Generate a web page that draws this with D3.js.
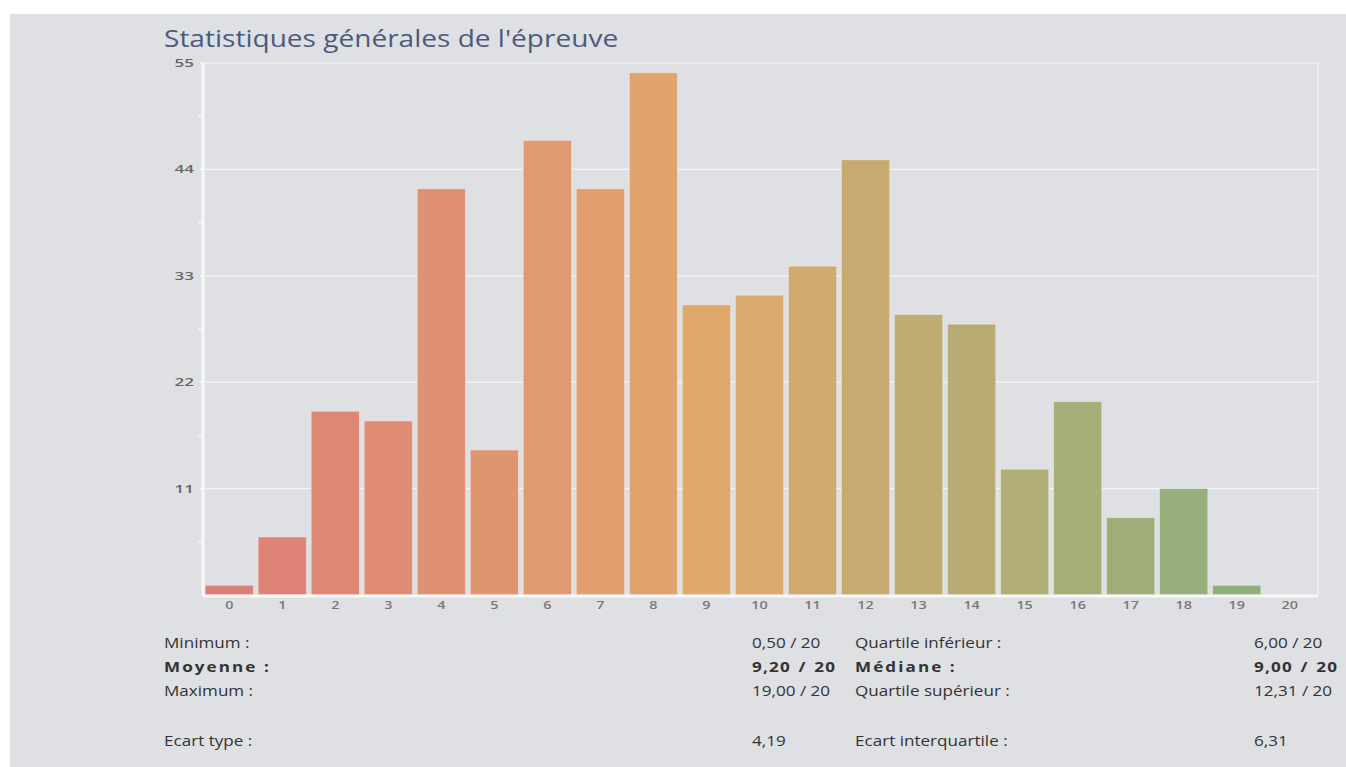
<!DOCTYPE html>
<html>
<head>
<meta charset="utf-8">
<script src="https://cdn.jsdelivr.net/npm/d3@7"></script>
<style>
  body { margin: 0; background: #fff; font-family: "Open Sans", sans-serif; }
  #chart svg { display: block; }
</style>
</head>
<body>
<div id="chart"></div>
<script>
const notes = [0, 1, 2, 3, 4, 5, 6, 7, 8, 9, 10, 11, 12, 13, 14, 15, 16, 17, 18, 19, 20];
const counts = [1, 6, 19, 18, 42, 15, 47, 42, 54, 30, 31, 34, 45, 29, 28, 13, 20, 8, 11, 1, 0];
const yTicks = [11, 22, 33, 44, 55];

const statsLeft = [
    ["Minimum :", "0,50 / 20", false],
    ["Moyenne :", "9,20 / 20", true],
    ["Maximum :", "19,00 / 20", false],
    ["Ecart type :", "4,19", false]
];
const statsRight = [
    ["Quartile inférieur :", "6,00 / 20", false],
    ["Médiane :", "9,00 / 20", true],
    ["Quartile supérieur :", "12,31 / 20", false],
    ["Ecart interquartile :", "6,31", false]
];

const width = 1346;
const height = 767;
const plot = { left: 203, right: 1318, top: 63, bottom: 595 };
const stretch = 1.22; // the reference text is drawn a bit wide

const svg = d3.select("#chart")
    .append("svg")
    .attr("width", width)
    .attr("height", height);

// grey panel
svg.append("rect")
    .attr("x", 10)
    .attr("y", 14)
    .attr("width", width - 10)
    .attr("height", height - 14)
    .attr("fill", "#dfe0e4");

svg.append("text")
    .attr("transform", `translate(164,47) scale(${stretch},1)`)
    .attr("fill", "#4d5a7d")
    .style("font-size", "23px")
    .text("Statistiques générales de l'épreuve");

const x = d3.scaleBand()
    .domain(notes)
    .range([plot.left, plot.right - 2])
    .paddingInner(0.09)
    .paddingOuter(0.04);

const y = d3.scaleLinear()
    .domain([0, 55])
    .range([plot.bottom, plot.top]);

const color = d3.scaleLinear()
    .domain([0, 9, 19])
    .range(["#df7e78", "#e1a86c", "#8fb07b"]);

// grid
svg.append("g")
    .selectAll("line")
    .data(yTicks)
    .enter()
    .append("line")
    .attr("x1", plot.left)
    .attr("x2", plot.right)
    .attr("y1", d => y(d))
    .attr("y2", d => y(d))
    .attr("stroke", "#f4f5f7")
    .attr("stroke-width", 1.2);

// right border
svg.append("line")
    .attr("x1", plot.right)
    .attr("x2", plot.right)
    .attr("y1", plot.top)
    .attr("y2", plot.bottom)
    .attr("stroke", "#f4f5f7")
    .attr("stroke-width", 1.2);

// bars
svg.append("g")
    .selectAll("rect")
    .data(notes)
    .enter()
    .append("rect")
    .attr("x", d => x(d))
    .attr("y", (d, i) => y(counts[i]))
    .attr("width", x.bandwidth())
    .attr("height", (d, i) => y(0) - y(counts[i]))
    .attr("fill", d => color(d))
    .attr("stroke", "#f3f0ec")
    .attr("stroke-opacity", 0.5)
    .attr("stroke-width", 1);

// y axis
const yAxis = svg.append("g")
    .attr("transform", `translate(${plot.left},0)`)
    .call(d3.axisLeft(y).tickValues(yTicks).tickSize(0).tickPadding(0));
yAxis.select(".domain").remove();
yAxis.selectAll("text")
    .attr("x", null)
    .attr("transform", `translate(-9,0) scale(1.55,1)`)
    .attr("fill", "#666")
    .style("font-size", "11px")
    .style("font-weight", "600")
    .style("font-family", "Open Sans");

const minor = yTicks.map(t => t - 5.5);
svg.append("g")
    .selectAll("line")
    .data(minor)
    .enter()
    .append("line")
    .attr("x1", plot.left - 5)
    .attr("x2", plot.left)
    .attr("y1", d => y(d))
    .attr("y2", d => y(d))
    .attr("stroke", "#f4f5f7")
    .attr("stroke-width", 1.5);
svg.append("g")
    .selectAll("line")
    .data(yTicks)
    .enter()
    .append("line")
    .attr("x1", plot.left - 3)
    .attr("x2", plot.left)
    .attr("y1", d => y(d))
    .attr("y2", d => y(d))
    .attr("stroke", "#f4f5f7")
    .attr("stroke-width", 1.5);

svg.append("line")
    .attr("x1", plot.left)
    .attr("x2", plot.left)
    .attr("y1", plot.top)
    .attr("y2", plot.bottom + 1)
    .attr("stroke", "#f6f7f8")
    .attr("stroke-width", 3);

// x axis
svg.append("line")
    .attr("x1", plot.left)
    .attr("x2", plot.right)
    .attr("y1", plot.bottom + 1)
    .attr("y2", plot.bottom + 1)
    .attr("stroke", "#f6f7f8")
    .attr("stroke-width", 3);

const xAxis = svg.append("g")
    .attr("transform", `translate(0,${plot.bottom})`)
    .call(d3.axisBottom(x).tickSize(0).tickPadding(0));
xAxis.select(".domain").remove();
xAxis.selectAll("text")
    .attr("y", null)
    .attr("dy", null)
    .attr("transform", `translate(0,14) scale(1.25,1)`)
    .attr("fill", "#777")
    .style("font-size", "11.5px")
    .style("font-weight", "600")
    .style("font-family", "Open Sans");

// stats table
const rowY = [648, 672, 696, 746];

function drawStats(rows, labelX, valueX) {
    const g = svg.append("g")
        .style("font-family", "Open Sans")
        .style("font-size", "14px")
        .attr("fill", "#333");
    g.selectAll(".lab")
        .data(rows)
        .enter()
        .append("text")
        .attr("transform", (d, i) => `translate(${labelX},${rowY[i]}) scale(${stretch},1)`)
        .style("font-weight", d => d[2] ? "700" : "400")
        .style("letter-spacing", d => d[2] ? "1.7px" : "0px")
        .text(d => d[0]);
    g.selectAll(".val")
        .data(rows)
        .enter()
        .append("text")
        .attr("transform", (d, i) => `translate(${valueX},${rowY[i]}) scale(${stretch},1)`)
        .style("font-weight", d => d[2] ? "700" : "400")
        .style("letter-spacing", d => d[2] ? "1px" : "0px")
        .style("word-spacing", d => d[2] ? "1.5px" : "0px")
        .text(d => d[1]);
}

drawStats(statsLeft, 164, 752);
drawStats(statsRight, 855, 1254);
</script>
</body>
</html>
